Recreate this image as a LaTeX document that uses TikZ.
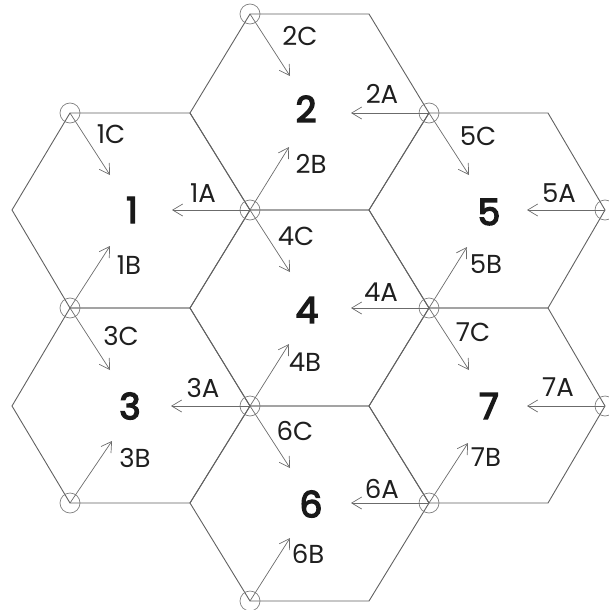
\documentclass[tikz,border=0pt]{standalone}
\usepackage{fontspec}
\setmainfont{Poppins}
\newfontfamily\cellnumfont[FakeBold=4]{Poppins}
\usetikzlibrary{arrows.meta}
\begin{document}
\begin{tikzpicture}[x=1pt,y=-1pt,
  hexline/.style={draw=black!62, line width=0.9pt, line join=miter},
  vtx/.style={circle, draw=black!50, line width=0.7pt, minimum size=20pt, inner sep=0pt},
  arr/.style={draw=black!58, line width=0.7pt, -{Straight Barb[length=10pt,width=12pt]}},
  lab/.style={inner sep=0pt, font=\fontsize{26}{26}\selectfont, text=black!88},
  num/.style={inner sep=0pt, font=\cellnumfont\fontsize{36}{36}\selectfont, text=black!90}]
\useasboundingbox (0,0) rectangle (609,610);
% vertex grid
\coordinate (a2) at (12,210);
\coordinate (a4) at (12,406);
\coordinate (b1) at (70,113);
\coordinate (b3) at (70,308);
\coordinate (b5) at (70,503);
\coordinate (c1) at (190,113);
\coordinate (c3) at (190,308);
\coordinate (c5) at (190,503);
\coordinate (d0) at (250,14);
\coordinate (d2) at (250,210);
\coordinate (d4) at (250,406);
\coordinate (d6) at (250,601);
\coordinate (e0) at (369,14);
\coordinate (e2) at (369,210);
\coordinate (e4) at (369,406);
\coordinate (e6) at (369,601);
\coordinate (f1) at (429,113);
\coordinate (f3) at (429,308);
\coordinate (f5) at (429,503);
\coordinate (g1) at (548,113);
\coordinate (g3) at (548,308);
\coordinate (g5) at (548,503);
\coordinate (h2) at (605,210);
\coordinate (h4) at (605,406);
% hexagons
\draw[hexline] (a2)--(b1)--(c1)--(d2)--(c3)--(b3)--cycle;
\draw[hexline] (c1)--(d0)--(e0)--(f1)--(e2)--(d2)--cycle;
\draw[hexline] (a4)--(b3)--(c3)--(d4)--(c5)--(b5)--cycle;
\draw[hexline] (c3)--(d2)--(e2)--(f3)--(e4)--(d4)--cycle;
\draw[hexline] (e2)--(f1)--(g1)--(h2)--(g3)--(f3)--cycle;
\draw[hexline] (c5)--(d4)--(e4)--(f5)--(e6)--(d6)--cycle;
\draw[hexline] (e4)--(f3)--(g3)--(h4)--(g5)--(f5)--cycle;
% antenna sites
\foreach \v in {d0,b1,f1,d2,h2,b3,f3,d4,h4,b5,f5,d6}
  \node[vtx] (n\v) at (\v) {};
% arrow tips
\path (b1) ++(40,62) coordinate (t1C);
\path (d0) ++(40,62) coordinate (t2C);
\path (b3) ++(40,62) coordinate (t3C);
\path (d2) ++(40,62) coordinate (t4C);
\path (f1) ++(40,62) coordinate (t5C);
\path (d4) ++(40,62) coordinate (t6C);
\path (f3) ++(40,62) coordinate (t7C);
\path (d2) ++(-78,0) coordinate (t1A);
\path (f1) ++(-78,0) coordinate (t2A);
\path (d4) ++(-79,0) coordinate (t3A);
\path (f3) ++(-78,0) coordinate (t4A);
\path (h2) ++(-78,0) coordinate (t5A);
\path (f5) ++(-78,0) coordinate (t6A);
\path (h4) ++(-78,0) coordinate (t7A);
\path (b3) ++(40,-62) coordinate (t1B);
\path (d2) ++(39,-63) coordinate (t2B);
\path (b5) ++(42,-62) coordinate (t3B);
\path (d4) ++(39,-62) coordinate (t4B);
\path (f3) ++(38,-61) coordinate (t5B);
\path (d6) ++(40,-63) coordinate (t6B);
\path (f5) ++(39,-60) coordinate (t7B);
% arrows
\draw[arr] (nb1.center) -- (t1C);
\draw[arr] (nd0.center) -- (t2C);
\draw[arr] (nb3.center) -- (t3C);
\draw[arr] (nd2.center) -- (t4C);
\draw[arr] (nf1.center) -- (t5C);
\draw[arr] (nd4.center) -- (t6C);
\draw[arr] (nf3.center) -- (t7C);
\draw[arr] (nd2.center) -- (t1A);
\draw[arr] (nf1.center) -- (t2A);
\draw[arr] (nd4.center) -- (t3A);
\draw[arr] (nf3.center) -- (t4A);
\draw[arr] (nh2.center) -- (t5A);
\draw[arr] (nf5.center) -- (t6A);
\draw[arr] (nh4.center) -- (t7A);
\draw[arr] (nb3.center) -- (t1B);
\draw[arr] (nd2.center) -- (t2B);
\draw[arr] (nb5.center) -- (t3B);
\draw[arr] (nd4.center) -- (t4B);
\draw[arr] (nf3.center) -- (t5B);
\draw[arr] (nd6.center) -- (t6B);
\draw[arr] (nf5.center) -- (t7B);
% cell numbers
\node[num] (c1n) at (132,210) {1};
\node[num] (c2n) at (306,109) {2};
\node[num] (c3n) at (130,406) {3};
\node[num] (c4n) at (307,310) {4};
\node[num] (c5n) at (489,212) {5};
\node[num] (c6n) at (311,504) {6};
\node[num] (c7n) at (489,406) {7};
% sector labels
\node[lab] (l1C) at (111,134) {1C};
\node[lab] (l1A) at (203,193) {1A};
\node[lab] (l1B) at (129,265) {1B};
\node[lab] (l2C) at (300,36) {2C};
\node[lab] (l2A) at (382,94) {2A};
\node[lab] (l2B) at (311,164) {2B};
\node[lab] (l3C) at (121,336) {3C};
\node[lab] (l3A) at (203,388) {3A};
\node[lab] (l3B) at (135,458) {3B};
\node[lab] (l4C) at (296,236) {4C};
\node[lab] (l4A) at (381,292) {4A};
\node[lab] (l4B) at (305,362) {4B};
\node[lab] (l5C) at (478,136) {5C};
\node[lab] (l5A) at (559,193) {5A};
\node[lab] (l5B) at (486,264) {5B};
\node[lab] (l6C) at (295,431) {6C};
\node[lab] (l6A) at (382,489) {6A};
\node[lab] (l6B) at (308,554) {6B};
\node[lab] (l7C) at (473,332) {7C};
\node[lab] (l7A) at (558,387) {7A};
\node[lab] (l7B) at (486,457) {7B};
\end{tikzpicture}
\end{document}
